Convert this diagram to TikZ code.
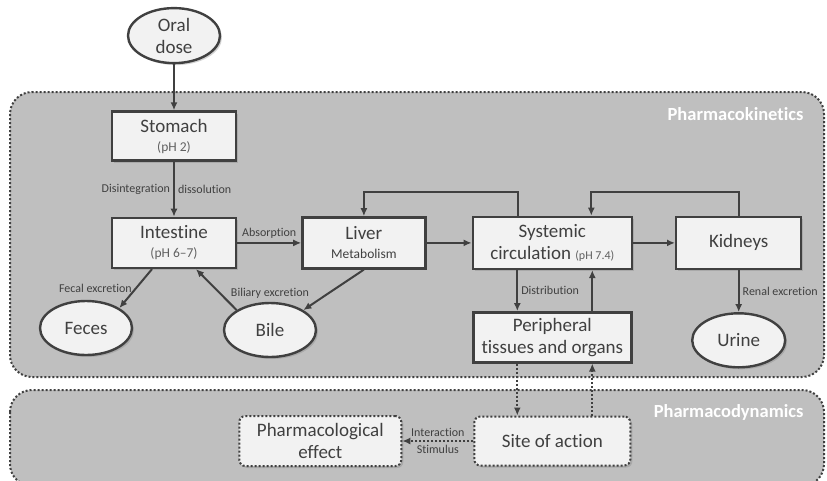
\documentclass[tikz,border=0pt]{standalone}
\usepackage{fontspec}
\setmainfont{Carlito}[Ligatures=NoCommon]
\usetikzlibrary{arrows.meta}
\usetikzlibrary{positioning}
\usetikzlibrary{shapes.geometric}
\usetikzlibrary{shadows}
\definecolor{ink}{HTML}{404040}
\definecolor{panelgray}{HTML}{BFBFBF}
\definecolor{boxfill}{HTML}{F2F2F2}
\definecolor{softink}{HTML}{606060}
\newcommand{\phsize}{\fontsize{13.5}{15}\selectfont}

\begin{document}
\begin{tikzpicture}[x=1pt,y=-1pt]
\tikzstyle{organ}=[draw=ink, line width=2.4pt, fill=boxfill, text=ink, 
align=center, inner sep=0pt, font=\fontsize{19}{22}\selectfont, 
drop shadow={shadow xshift=2pt, shadow yshift=-2pt, opacity=0.35}]
\tikzstyle{pool}=[organ, ellipse, minimum width=92pt, minimum height=54pt]
\tikzstyle{dots}=[line width=2pt, dash pattern=on 2pt off 2pt]
\tikzstyle{site}=[organ, dots, rounded corners=6pt]
\tikzstyle{flow}=[draw=ink, line width=2pt, -{Latex[length=8pt,width=7pt]}]
\tikzstyle{dotflow}=[flow, dots]
\tikzstyle{lbl}=[text=ink, font=\fontsize{12}{14}\selectfont, inner sep=3pt]
	\useasboundingbox (0,0) rectangle (827,480);
	
	% panels
	\draw [fill=panelgray, draw=ink, dots, rounded corners=22pt] 
	(10,92) rectangle (824,377);
	\draw [fill=panelgray, draw=ink, dots, rounded corners=22pt] 
	(10,390) rectangle (824,486);
	\node [anchor=east, text=white, font=\fontsize{18.5}{20}\selectfont\bfseries] 
	(PK) at (807,114) {Pharmacokinetics};
	\node [anchor=east, text=white, font=\fontsize{18.5}{20}\selectfont\bfseries] 
	(PD) at (807,412) {Pharmacodynamics};
	
	% organs
	\node [organ, minimum width=124pt, minimum height=49pt] (stomach) at 
	(174,136) {Stomach\\[-3pt]{\phsize\color{softink}(pH 2)}};
	\node [pool, minimum height=55pt, above = 46pt of stomach] (oral) 
	{Oral\\dose};
	\node [organ, minimum width=124pt, minimum height=50pt, below = 55pt of 
	stomach] (intestine) {Intestine\\[-3pt]{\phsize\color{softink}(pH 6--7)}};
	\node [organ, minimum width=123pt, minimum height=51pt, right = 64pt of 
	intestine] (liver) {Liver\\[-3pt]{\phsize Metabolism}};
	\node [organ, minimum width=159pt, minimum height=52pt, right = 45pt of 
	liver] (systemic) {Systemic\\circulation 
	{\fontsize{12}{14}\selectfont\color{softink}(pH 7.4)}};
	\node [organ, minimum width=125pt, minimum height=52pt, right = 42pt of 
	systemic] (kidneys) {Kidneys};
	\node [organ, minimum width=158pt, minimum height=50pt, below = 41pt of 
	systemic] (peripheral) {Peripheral\\tissues and organs};
	\node [pool, minimum width=93pt, below = 42pt of kidneys] (urine) {Urine};
	\node [pool] (feces) at (86,328) {Feces};
	\node [pool] (bile) at (270,330) {Bile};
	
	% site of action
	\node [site, minimum width=156pt, minimum height=49pt, below = 52pt of 
	peripheral] (action) {Site of action};
	\node [site, minimum width=162pt, minimum height=50pt, left = 71pt of 
	action] (effect) {Pharmacological\\effect};
	
	% absorption
	\draw [flow] (oral) -- (stomach);
	\draw [flow] (stomach) -- node [lbl, left] {Disintegration} 
	node [lbl, right] {dissolution} (intestine);
	\draw [flow] (intestine) -- node [lbl, above] {Absorption} (liver);
	\draw [flow] (liver) -- (systemic);
	\draw [flow] (systemic) -- (kidneys);
	
	% loops
	\draw [flow] ([xshift=-34pt]systemic.north) -- ++(0,-24) -| (liver.north);
	\draw [flow] (kidneys.north) -- ++(0,-24) -| ([xshift=39pt]systemic.north);
	\draw [flow] ([xshift=-35pt]systemic.south) -- node [lbl, right] 
	{Distribution} ([xshift=-35pt]systemic.south |- peripheral.north);
	\draw [flow] ([xshift=40pt]systemic.south |- peripheral.north) -- 
	([xshift=40pt]systemic.south);
	
	% excretion
	\draw [flow] (kidneys) -- node [lbl, right] {Renal excretion} (urine);
	\draw [flow] ([xshift=-22pt]intestine.south) -- node [lbl, left] 
	{Fecal excretion} (feces.north east);
	\draw [flow] (bile.north west) -- ([xshift=22pt]intestine.south);
	\draw [flow] (liver.south) -- (bile.north east);
	\node [lbl, above = 0pt of bile] (biliary) {Biliary excretion};
	
	% effect
	\draw [dotflow] ([xshift=-35pt]systemic.south |- peripheral.south) -- 
	([xshift=-35pt]systemic.south |- action.north);
	\draw [dotflow] ([xshift=40pt]systemic.south |- action.north) -- 
	([xshift=40pt]systemic.south |- peripheral.south);
	\draw [dotflow] (action) -- node [lbl, above] {Interaction} 
	node [lbl, below] {Stimulus} (effect);
\end{tikzpicture}
\end{document}
